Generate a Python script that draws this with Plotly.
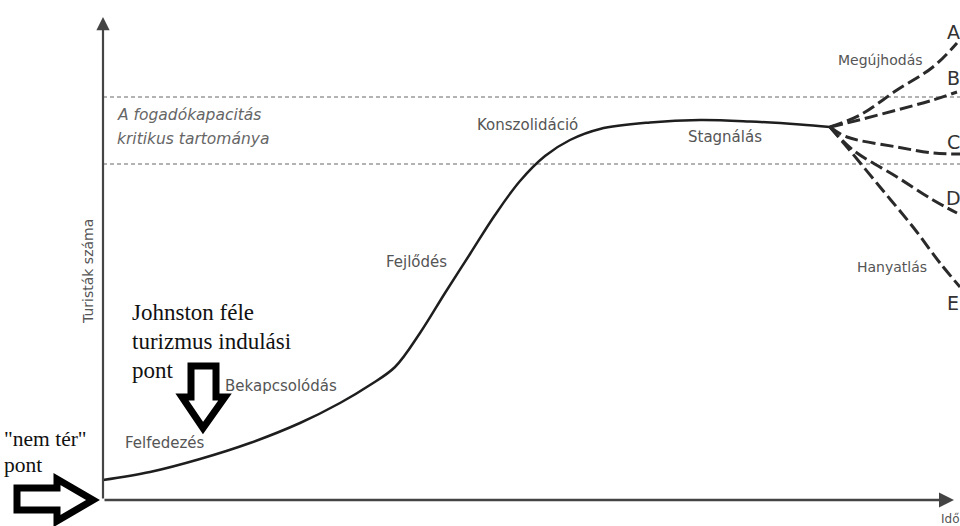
import plotly.graph_objects as go

# Butler-féle életciklus görbe (idő, turisták száma)
ido = [0, 47, 97, 147, 197, 237, 267, 292, 317, 342, 367, 392, 417, 442, 467, 497, 547, 597, 647, 697, 727]
turistak = [20, 28, 41, 57, 77, 97, 115, 133, 167, 207, 246, 285, 319, 344, 360, 371, 377.5, 380, 378.5, 375.5, 373]

# kimenetek a stagnálás után
agak = {
    "A": ([727, 757, 794, 830, 854], [373, 385, 410, 433, 457]),
    "B": ([727, 744, 794, 830, 854], [373, 377, 390, 400, 408]),
    "C": ([727, 744, 794, 830, 857], [373, 363, 353, 347, 346]),
    "D": ([727, 750, 794, 830, 854], [373, 350, 323, 300, 287]),
    "E": ([727, 744, 777, 810, 837, 857], [373, 353, 313, 273, 237, 213]),
}
ag_cimke_v = [468, 422, 358, 302, 197]

# a fogadókapacitás kritikus tartománya
kapacitas_also = 336
kapacitas_felso = 403
ido_max = 857

fig = go.Figure()

for v in [kapacitas_felso, kapacitas_also]:
    fig.add_trace(go.Scatter(
        x=[0, ido_max], y=[v, v], mode="lines",
        line=dict(color="#9a9a9a", width=1.5, dash="4px,3px"),
        hoverinfo="skip",
    ))

fig.add_trace(go.Scatter(
    x=ido, y=turistak, mode="lines", line_shape="spline",
    line=dict(color="#1e1e1e", width=2.5, smoothing=1.0), hoverinfo="skip",
))

for nev, (ax_, ay_) in agak.items():
    fig.add_trace(go.Scatter(
        x=ax_, y=ay_, mode="lines", line_shape="spline",
        line=dict(color="#2a2a2a", width=3, dash="13px,5px"),
        hoverinfo="skip",
    ))

szurke = "#555555"
sans = "DejaVu Sans"
serif = "Liberation Serif"


def felirat(x, y, text, size=15, color=szurke, family=sans, xanchor="center", **kw):
    fig.add_annotation(x=x, y=y, text=text, showarrow=False, xanchor=xanchor,
                       yanchor="middle", font=dict(size=size, color=color, family=family), **kw)


# tengelyek nyilakkal
fig.add_annotation(x=0, y=483, ax=0, ay=0, axref="x", ayref="y", text="", showarrow=True,
                   arrowhead=2, arrowsize=1.2, arrowwidth=2.2, arrowcolor="#444444")
fig.add_annotation(x=851, y=0, ax=0, ay=0, axref="x", ayref="y", text="", showarrow=True,
                   arrowhead=2, arrowsize=1.2, arrowwidth=2.5, arrowcolor="#444444")

felirat(12, 385, "<i>A fogadókapacitás</i>", size=15.5, color="#666666", xanchor="left")
felirat(12, 361, "<i>kritikus tartománya</i>", size=15.5, color="#666666", xanchor="left")
felirat(424, 375, "Konszolidáció")
felirat(622, 363, "Stagnálás")
felirat(313, 238, "Fejlődés")
felirat(178, 114, "Bekapcsolódás")
felirat(62, 57, "Felfedezés")
felirat(777, 440, "Megújhodás", size=14)
felirat(789, 233, "Hanyatlás", size=14)
for betu, v in zip(["A", "B", "C", "D", "E"], ag_cimke_v):
    felirat(850, v, betu, size=19, color="#333333")
felirat(-15, 228, "Turisták száma", size=14, textangle=-90)
felirat(847, -19, "Idő", size=12)

felirat(27, 188, "Johnston féle", size=23, color="#111111", family=serif, xanchor="left")
felirat(27, 159, "turizmus indulási", size=23, color="#111111", family=serif, xanchor="left")
felirat(27, 130, "pont", size=23, color="#111111", family=serif, xanchor="left")
felirat(-101, 61, "\"nem tér\"", size=21.5, color="#111111", family=serif, xanchor="left")
felirat(-101, 35, "pont", size=21.5, color="#111111", family=serif, xanchor="left")

# üreges nyilak
fig.add_shape(type="path", xref="x", yref="y",
              path="M 88 134 L 113 134 L 113 103 L 122 103 L 100 72 L 79 103 L 88 103 Z",
              line=dict(color="black", width=7), fillcolor="white")
fig.add_shape(type="path", xref="x", yref="y",
              path="M -86 12 L -46 12 L -46 21 L -10 0 L -46 -21 L -46 -10 L -86 -10 Z",
              line=dict(color="black", width=7), fillcolor="white")

fig.update_layout(
    width=960, height=526,
    margin=dict(l=0, r=0, t=0, b=0),
    plot_bgcolor="white", paper_bgcolor="white",
    showlegend=False,
)
fig.update_xaxes(range=[-103, 857], visible=False)
fig.update_yaxes(range=[-26, 500], visible=False)

fig.write_html("out.html", config={"displayModeBar": False},
               post_script="document.body.style.margin='0';")
